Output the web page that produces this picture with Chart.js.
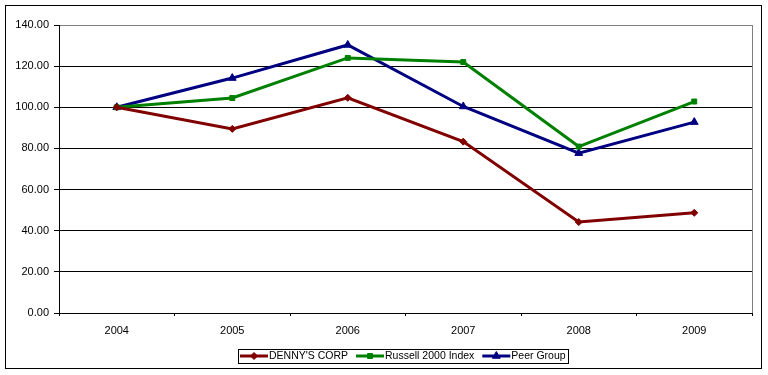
<!DOCTYPE html>
<html>
<head>
<meta charset="utf-8">
<script src="https://cdn.jsdelivr.net/npm/chart.js@4/dist/chart.umd.min.js"></script>
<style>
  html, body { margin: 0; padding: 0; background: #fff; }
  #wrap { width: 768px; height: 375px; position: relative; }
</style>
</head>
<body>
<div id="wrap"><canvas id="c" width="768" height="375"></canvas></div>
<script>
const categories = ['2004', '2005', '2006', '2007', '2008', '2009'];
const dennysCorp = [100.0, 89.5, 104.6, 83.3, 44.2, 48.7];
const russell2000 = [100.0, 104.5, 124.0, 122.0, 80.9, 102.8];
const peerGroup = [100.0, 114.2, 130.3, 100.4, 77.7, 92.8];
const seriesNames = ["DENNY'S CORP", 'Russell 2000 Index', 'Peer Group'];
const yTicks = { min: 0, max: 140, step: 20 };

const colors = ['#800000', '#008000', '#000080'];
const styles = ['rectRot', 'rect', 'triangle'];
const radii = [3.5, 3.5, 4.5];
const FONT = '"Liberation Sans", Arial, sans-serif';

const frameAndLegend = {
  id: 'frameAndLegend',
  beforeDraw(chart) {
    const ctx = chart.ctx;
    ctx.save();
    ctx.fillStyle = '#fff';
    ctx.fillRect(0, 0, chart.width, chart.height);
    ctx.strokeStyle = '#000';
    ctx.lineWidth = 1;
    ctx.strokeRect(5.5, 5.5, 756, 363);
    ctx.restore();
  },
  beforeDatasetsDraw(chart) {
    const ctx = chart.ctx, a = chart.chartArea;
    ctx.save();
    ctx.strokeStyle = '#808080';
    ctx.lineWidth = 1;
    ctx.beginPath();
    ctx.moveTo(Math.round(a.right) + 0.5, a.top);
    ctx.lineTo(Math.round(a.right) + 0.5, a.bottom);
    ctx.stroke();
    ctx.restore();
  },
  afterDraw(chart) {
    const ctx = chart.ctx;
    ctx.save();
    ctx.font = '10.5px ' + FONT;
    ctx.textBaseline = 'middle';
    const lineW = 28, gapText = 1, gapItem = 8, pad = 2;
    const widths = seriesNames.map(n => ctx.measureText(n).width);
    let total = pad * 2;
    widths.forEach((w, i) => { total += lineW + gapText + w + (i < widths.length - 1 ? gapItem : 0); });
    const cx = 402.5;
    let x = Math.round(cx - total / 2);
    const top = 349, h = 14, cy = top + h / 2;
    ctx.strokeStyle = '#000';
    ctx.lineWidth = 1;
    ctx.strokeRect(x + 0.5, top + 0.5, Math.round(total), h);
    x += pad;
    seriesNames.forEach((name, i) => {
      ctx.strokeStyle = colors[i];
      ctx.fillStyle = colors[i];
      ctx.lineWidth = 3;
      ctx.beginPath();
      ctx.moveTo(x, cy);
      ctx.lineTo(x + lineW, cy);
      ctx.stroke();
      ctx.lineWidth = 1;
      Chart.helpers.drawPoint(ctx, {
        pointStyle: styles[i], radius: radii[i], borderWidth: 1, rotation: 0
      }, x + lineW / 2, cy);
      ctx.fillStyle = '#000';
      ctx.fillText(name, x + lineW + gapText, cy + 0.5);
      x += lineW + gapText + widths[i] + gapItem;
    });
    ctx.restore();
  }
};

const makeDs = (label, data, i) => ({
  label, data,
  borderColor: colors[i],
  backgroundColor: colors[i],
  borderWidth: 3,
  pointStyle: styles[i],
  pointRadius: radii[i],
  pointHoverRadius: radii[i],
  pointBorderWidth: 1,
  pointBorderColor: colors[i],
  pointBackgroundColor: colors[i],
  tension: 0,
  fill: false
});

new Chart(document.getElementById('c'), {
  type: 'line',
  data: {
    labels: categories,
    datasets: [
      makeDs(seriesNames[0], dennysCorp, 0),
      makeDs(seriesNames[1], russell2000, 1),
      makeDs(seriesNames[2], peerGroup, 2)
    ]
  },
  options: {
    responsive: false,
    animation: false,
    devicePixelRatio: 1,
    layout: { padding: { left: 0, right: 16, top: 25, bottom: 0 } },
    plugins: { legend: { display: false }, tooltip: { enabled: false } },
    scales: {
      x: {
        offset: true,
        grid: { offset: true, drawOnChartArea: false, drawTicks: true, tickLength: 3, color: '#000' },
        border: { color: '#000', width: 1 },
        ticks: { color: '#000', font: { family: FONT, size: 11 }, padding: 8, maxRotation: 0 },
        afterFit(s) { s.height = 62; }
      },
      y: {
        min: yTicks.min, max: yTicks.max,
        grid: {
          color: c => (c.tick && c.tick.value === yTicks.max) ? '#808080' : '#000',
          tickColor: '#000',
          tickLength: 5,
          lineWidth: 1
        },
        border: { color: '#000', width: 1 },
        ticks: {
          stepSize: yTicks.step,
          color: '#000',
          font: { family: FONT, size: 11 },
          padding: 5,
          callback: v => Number(v).toFixed(2)
        },
        afterFit(s) { s.width = 59; }
      }
    }
  },
  plugins: [frameAndLegend]
});
</script>
</body>
</html>
